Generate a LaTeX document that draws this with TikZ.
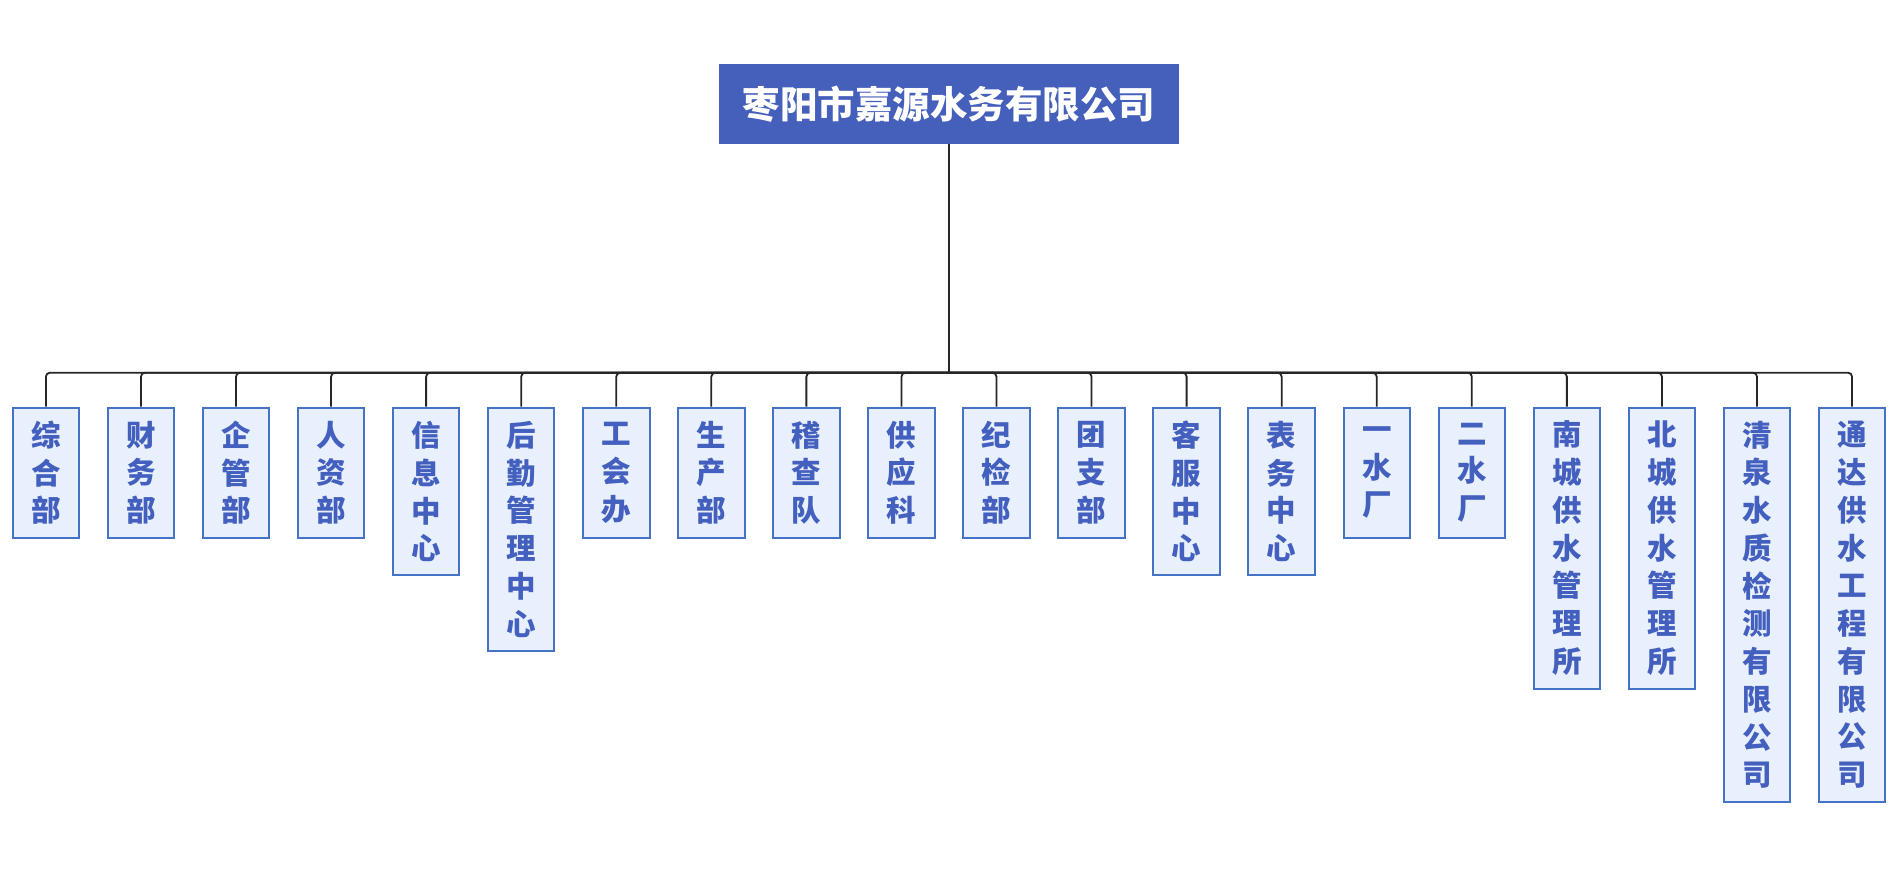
\documentclass[tikz,border=0pt]{standalone}
\usepackage{fontspec}
\usepackage{xcolor}
\usepackage{tikz}
\usetikzlibrary{positioning}
\newfontfamily\cjk{Noto Sans CJK SC}
\definecolor{titleblue}{HTML}{4560BB}
\definecolor{deptline}{HTML}{4472C4}
\definecolor{deptfill}{HTML}{E8EFFD}
\definecolor{depttext}{HTML}{4460BE}
\definecolor{wire}{HTML}{262626}
\tikzset{
  company/.style={fill=titleblue, text=white, minimum width=460, minimum height=80,
    inner sep=0, font=\cjk\bfseries\fontsize{37.5}{40}\selectfont},
  dept/.style={draw=deptline, fill=deptfill, text=depttext, line width=2pt,
    minimum width=66.5, inner sep=0, align=center, anchor=north,
    font=\cjk\bfseries\fontsize{29.5}{37.75}\selectfont},
  wire/.style={draw=wire, line width=1.8pt}
}

\begin{document}
\begin{tikzpicture}[x=1pt, y=-1pt]
    \useasboundingbox (0,0) rectangle (1895,893);

    % the company on top
    \node[company] (top) at (949, 104) {枣阳市嘉源水务有限公司};
    \coordinate (bus) at (949, 372.7);

    % departments, one column each
    \foreach \i/\n/\t in {1/3/综\\合\\部, 2/3/财\\务\\部, 3/3/企\\管\\部, 4/3/人\\资\\部,
                          5/4/信\\息\\中\\心, 6/6/后\\勤\\管\\理\\中\\心, 7/3/工\\会\\办,
                          8/3/生\\产\\部, 9/3/稽\\查\\队, 10/3/供\\应\\科, 11/3/纪\\检\\部,
                          12/3/团\\支\\部, 13/4/客\\服\\中\\心, 14/4/表\\务\\中\\心,
                          15/3/一\\水\\厂, 16/3/二\\水\\厂,
                          17/7/南\\城\\供\\水\\管\\理\\所, 18/7/北\\城\\供\\水\\管\\理\\所,
                          19/10/清\\泉\\水\\质\\检\\测\\有\\限\\公\\司,
                          20/10/通\\达\\供\\水\\工\\程\\有\\限\\公\\司} {
        \node[dept, minimum height=16.75+37.75*\n] (d\i) at (45.9+95.06*\i-95.06, 406.7) {\t};
    };

    % the tree lines
    \draw[wire] (top.south) -- (bus);
    \foreach \i in {1,...,20} {
        \draw[wire, rounded corners=4pt] (bus) -| (d\i.north);
    };
\end{tikzpicture}
\end{document}
